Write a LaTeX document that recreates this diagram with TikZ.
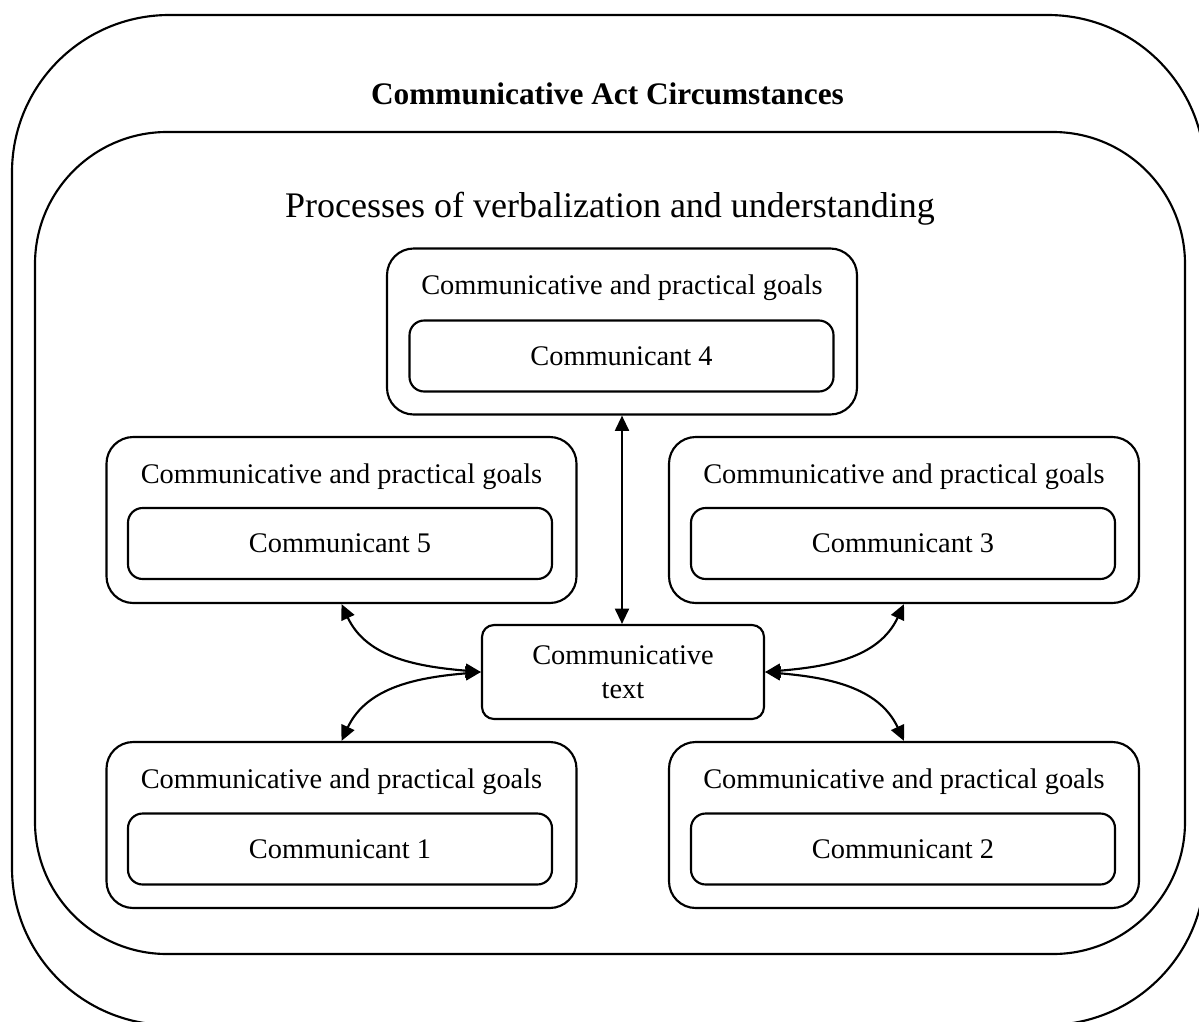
\documentclass[tikz,border=0pt]{standalone}
\usepackage{fontspec}
\setmainfont{Liberation Serif}
\usetikzlibrary{arrows.meta}

\begin{document}
\begin{tikzpicture}[x=0.75pt,y=0.75pt,yscale=-1,xscale=1,
  line width=1.6pt,
  bigbox/.style={draw, inner sep=0pt},
  goalbox/.style={draw, rounded corners=20pt, minimum width=352.5pt, minimum height=124.5pt, inner sep=0pt},
  agentbox/.style={draw, rounded corners=11pt, minimum width=318pt, minimum height=53.25pt, inner sep=0pt, font=\fontsize{21.3}{25.5}\selectfont},
  goaltext/.style={anchor=base, inner sep=0pt, font=\fontsize{21.3}{25.5}\selectfont},
  link/.style={{Triangle[length=11.5pt,width=10.5pt]}-{Triangle[length=11.5pt,width=10.5pt]}}
]
\useasboundingbox (0,0) rectangle (1199,1021);

%Shape: Rounded Rect -- circumstances
\node[bigbox, rounded corners=118pt, minimum width=894.75pt, minimum height=757.5pt] (acts) at (608.5,520) {};
%Shape: Rounded Rect -- processes
\node[bigbox, rounded corners=99pt, minimum width=862.5pt, minimum height=616.5pt] (procs) at (610,543) {};

% Text Node
\node[anchor=base, inner sep=0pt, font=\bfseries\fontsize{23.5}{28}\selectfont] (actstitle) at (607.5,104) {Communicative Act Circumstances};
% Text Node
\node[anchor=base, inner sep=0pt, font=\fontsize{27}{32}\selectfont] (procstitle) at (610,217) {Processes of verbalization and understanding};

%Shape: Rounded Rect -- communicant 4
\node[goalbox] (g4) at (622,331.5) {};
\node[goaltext] (l4) at (622,294) {Communicative and practical goals};
\node[agentbox] (c4) at (621.5,356) {Communicant 4};

%Shape: Rounded Rect -- communicant 5
\node[goalbox] (g5) at (341.5,520) {};
\node[goaltext] (l5) at (341.5,483) {Communicative and practical goals};
\node[agentbox] (c5) at (340,543.5) {Communicant 5};

%Shape: Rounded Rect -- communicant 3
\node[goalbox] (g3) at (904,520) {};
\node[goaltext] (l3) at (904,483) {Communicative and practical goals};
\node[agentbox] (c3) at (903,543.5) {Communicant 3};

%Shape: Rounded Rect -- communicant 1
\node[goalbox] (g1) at (341.5,825) {};
\node[goaltext] (l1) at (341.5,788) {Communicative and practical goals};
\node[agentbox] (c1) at (340,849) {Communicant 1};

%Shape: Rounded Rect -- communicant 2
\node[goalbox] (g2) at (904,825) {};
\node[goaltext] (l2) at (904,788) {Communicative and practical goals};
\node[agentbox] (c2) at (903,849) {Communicant 2};

%Shape: Rounded Rect -- text in the middle
\node[draw, rounded corners=9pt, minimum width=211.5pt, minimum height=70.5pt, inner sep=0pt, align=center, font=\fontsize{21.3}{25.5}\selectfont] (txt) at (623,672) {Communicative\\text};

%Straight Lines
\draw[link] (g4.south) -- (g4.south |- txt.north);
%Curve Lines
\draw[link] (g5.south) to[out=65,in=185] (txt.west);
\draw[link] (g1.north) to[out=-65,in=175] (txt.west);
\draw[link] (g3.south) to[out=115,in=-5] (txt.east);
\draw[link] (g2.north) to[out=-115,in=5] (txt.east);

\end{tikzpicture}
\end{document}
